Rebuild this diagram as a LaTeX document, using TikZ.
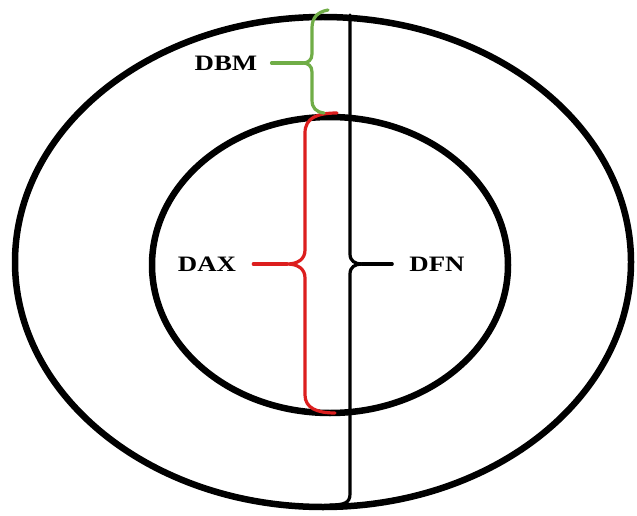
\documentclass[tikz,border=0pt]{standalone}
\usepackage{fontspec}
\setmainfont{Liberation Serif}
\definecolor{bracegreen}{RGB}{112,173,71}
\definecolor{bracered}{RGB}{220,30,30}
\begin{document}
\begin{tikzpicture}[x=1pt,y=-1pt,
  ring/.style={draw=black,line width=6.5pt},
  lbl/.style={font=\fontsize{22}{24}\selectfont\bfseries,inner sep=0pt,xscale=1.22},
  bline/.style={line width=3.2pt,line cap=round}]
\useasboundingbox (0,0) rectangle (637,516);
\fill[white] (0,0) rectangle (637,516);
% rings
\draw[ring] (323,262) ellipse [x radius=308, y radius=245];
\draw[ring] (330,265) ellipse [x radius=178, y radius=148];
% labels
\node[lbl] (dbm) at (226,63) {DBM};
\node[lbl] (dax) at (207,264) {DAX};
\node[lbl] (dfn) at (437,264) {DFN};
% cusp coordinates
\coordinate (gtip) at (303,63);
\coordinate (rtip) at (287,264);
\coordinate (ktip) at (362,264);
% DFN brace (black)
\draw[bline,black] (350,15) -- (350,254)
  .. controls (350,261) and (355,264) .. (ktip)
  .. controls (355,264) and (350,267) .. (350,274)
  -- (350,494) .. controls (350,503) and (344,505) .. (330,505);
\draw[bline,black] (ktip) -- ([xshift=-17pt]dfn.west);
% DAX brace (red)
\draw[bline,bracered] (337,113) .. controls (317,113) and (305,118) .. (305,133)
  -- (305,250) .. controls (305,259) and (298,264) .. (rtip)
  .. controls (298,264) and (305,269) .. (305,278)
  -- (305,395) .. controls (305,408) and (317,413) .. (335,413);
\draw[bline,bracered] (rtip) -- ([xshift=17pt]dax.east);
% DBM brace (green)
\draw[bline,bracegreen] (328,10) .. controls (317,12) and (312,18) .. (312,28)
  -- (312,54) .. controls (312,60) and (308,63) .. (gtip)
  .. controls (308,63) and (312,66) .. (312,72)
  -- (312,100) .. controls (312,108) and (316,112) .. (324,113);
\draw[bline,bracegreen] (gtip) -- ([xshift=14pt]dbm.east);
\end{tikzpicture}
\end{document}
